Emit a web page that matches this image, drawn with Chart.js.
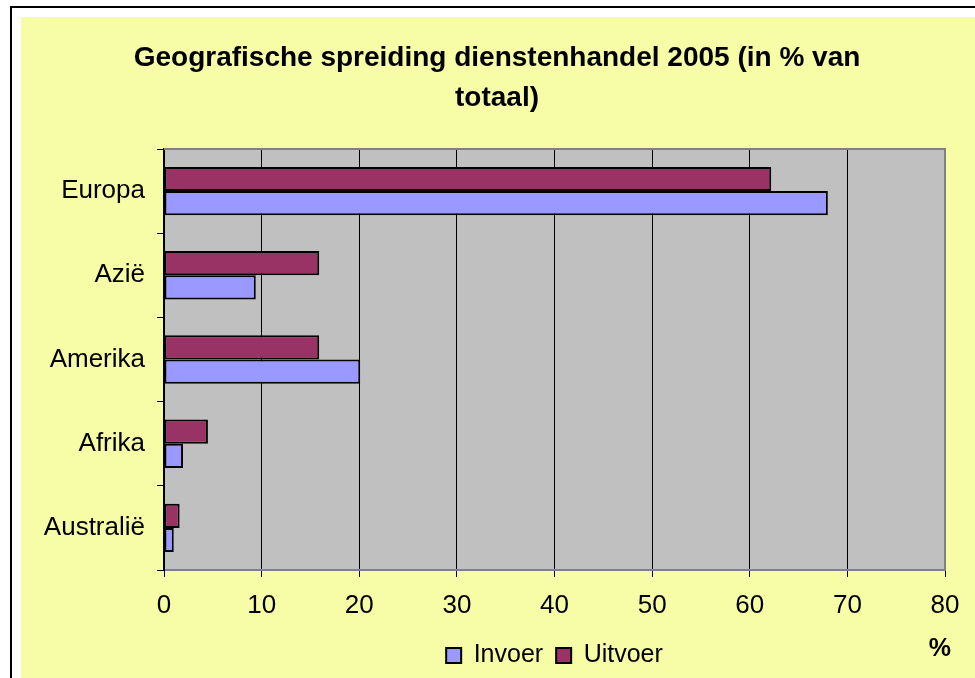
<!DOCTYPE html>
<html>
<head>
<meta charset="utf-8">
<script src="https://cdn.jsdelivr.net/npm/chart.js@4/dist/chart.umd.min.js"></script>
<style>
  html, body { margin: 0; padding: 0; background: #ffffff; }
  #wrap { width: 975px; height: 678px; position: relative; }
</style>
</head>
<body>
<div id="wrap"><canvas id="c" width="975" height="678"></canvas></div>
<script>
const categories = ['Europa', 'Azië', 'Amerika', 'Afrika', 'Australië'];
const uitvoer = [62.2, 15.9, 15.9, 4.5, 1.6];
const invoer = [68.0, 9.4, 20.1, 1.95, 1.0];
const xTicks = [0, 10, 20, 30, 40, 50, 60, 70, 80];
const titleLines = ['Geografische spreiding dienstenhandel 2005 (in % van', 'totaal)'];
const unitLabel = '%';

const FONT = "'Liberation Sans', Arial, sans-serif";
const TITLE_CENTER = 497;

const framePlugin = {
  id: 'frame',
  afterLayout(chart) {
    const t = chart.titleBlock;
    if (t) {
      const shift = TITLE_CENTER - (t.left + t.right) / 2;
      t.left += shift;
      t.right += shift;
    }
  },
  beforeDraw(chart) {
    const ctx = chart.ctx;
    const W = chart.width, H = chart.height;
    ctx.save();
    ctx.fillStyle = '#ffffff';
    ctx.fillRect(0, 0, W, H);
    ctx.fillStyle = '#000000';
    ctx.fillRect(10, 6, W - 10, 2);
    ctx.fillRect(10, 6, 2, H - 6);
    ctx.fillStyle = '#F7FCA6';
    ctx.fillRect(21, 17, W - 21, H - 17);
    const a = chart.chartArea;
    ctx.fillStyle = '#C0C0C0';
    ctx.fillRect(a.left, a.top, a.right - a.left, a.bottom - a.top);
    ctx.restore();
  },
  afterDatasetsDraw(chart) {
    const ctx = chart.ctx;
    const a = chart.chartArea;
    ctx.save();
    ctx.strokeStyle = '#808080';
    ctx.lineWidth = 2;
    ctx.beginPath();
    ctx.moveTo(a.left, a.top);
    ctx.lineTo(a.right, a.top);
    ctx.lineTo(a.right, a.bottom);
    ctx.stroke();
    ctx.restore();
  },
  afterDraw(chart) {
    const ctx = chart.ctx;
    const xs = chart.scales.x;
    ctx.save();
    ctx.font = 'bold 25px ' + FONT;
    ctx.fillStyle = '#000000';
    ctx.textAlign = 'right';
    ctx.textBaseline = 'middle';
    ctx.fillText(unitLabel, xs.right + 6, 649);
    ctx.restore();
  }
};

new Chart(document.getElementById('c'), {
  type: 'bar',
  data: {
    labels: categories,
    datasets: [
      { label: 'Uitvoer', data: uitvoer, backgroundColor: '#993366', borderColor: '#000000', borderWidth: 2, borderSkipped: false },
      { label: 'Invoer', data: invoer, backgroundColor: '#9999FF', borderColor: '#000000', borderWidth: 2, borderSkipped: false }
    ]
  },
  options: {
    indexAxis: 'y',
    responsive: false,
    animation: false,
    devicePixelRatio: 1,
    categoryPercentage: 0.575,
    barPercentage: 1.0,
    layout: { padding: { left: 22, right: 30, top: 17, bottom: 0 } },
    plugins: {
      title: {
        display: true,
        text: titleLines,
        color: '#000000',
        font: { family: FONT, size: 28, weight: 'bold', lineHeight: 40 / 28 },
        padding: { top: 21, bottom: 31 }
      },
      legend: {
        display: true,
        position: 'bottom',
        fullSize: false,
        reverse: true,
        labels: {
          color: '#000000',
          font: { family: FONT, size: 25 },
          boxWidth: 15,
          boxHeight: 15,
          padding: 13
        }
      },
      tooltip: { enabled: false }
    },
    scales: {
      x: {
        type: 'linear',
        min: 0,
        max: 80,
        afterBuildTicks(scale) { scale.ticks = xTicks.map(v => ({ value: v })); },
        afterFit(scale) { scale.height = 60; },
        ticks: {
          color: '#000000',
          font: { family: FONT, size: 26 },
          padding: 13,
          maxRotation: 0,
          autoSkip: false
        },
        grid: {
          color: '#000000',
          lineWidth: 1,
          drawOnChartArea: true,
          drawTicks: true,
          tickLength: 7,
          tickColor: '#000000'
        },
        border: { display: true, color: '#808080', width: 2 }
      },
      y: {
        type: 'category',
        afterFit(scale) { scale.width = 142; },
        ticks: {
          color: '#000000',
          font: { family: FONT, size: 26 },
          padding: 12,
          autoSkip: false
        },
        grid: {
          offset: true,
          drawOnChartArea: false,
          drawTicks: true,
          tickLength: 7,
          color: '#000000',
          tickColor: '#000000'
        },
        border: { display: true, color: '#000000', width: 2 }
      }
    }
  },
  plugins: [framePlugin]
});
</script>
</body>
</html>
